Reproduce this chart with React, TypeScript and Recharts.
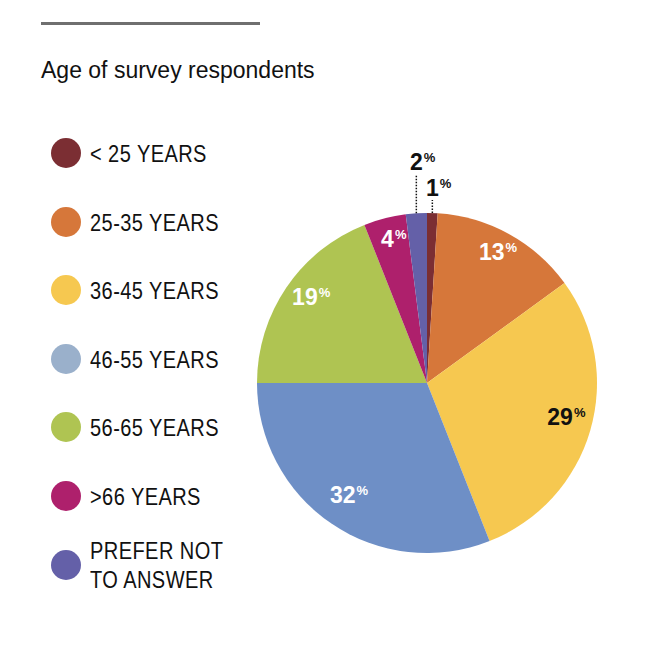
import { PieChart, Pie, Cell } from 'recharts';

// age bands, as listed in the legend
const ageGroups = [
  '< 25 YEARS',
  '25-35 YEARS',
  '36-45 YEARS',
  '46-55 YEARS',
  '56-65 YEARS',
  '>66 YEARS',
  'PREFER NOT TO ANSWER',
];
// share of respondents (%) as drawn by the slices
const shares = [1, 14, 29, 31, 19, 4, 2];
// percentages printed on the slices
const shareLabels = ['1', '13', '29', '32', '19', '4', '2'];

const sliceColors = ['#7B2E33', '#D6773A', '#F6C850', '#6E8FC6', '#AFC452', '#AE206C', '#6460A8'];
const legendColors = ['#7B2E33', '#D6773A', '#F6C850', '#9AB0CB', '#AFC452', '#AE206C', '#6460A8'];
const labelInk = ['#111', '#fff', '#111', '#fff', '#fff', '#fff', '#111'];

const pieData = ageGroups.map((name, i) => ({ name, value: shares[i] }));

const RAD = Math.PI / 180;
const numFont = '"Liberation Sans", Arial, sans-serif';

const renderLabel = (props: any) => {
  const { cx, cy, midAngle, outerRadius, index } = props;
  const cos = Math.cos(-midAngle * RAD);
  const sin = Math.sin(-midAngle * RAD);
  const txt = shareLabels[index];
  const half = (txt.length * 12.8) / 2;

  if (shares[index] < 3) {
    // small slices: label above with a dotted leader
    const ex = cx + outerRadius * cos;
    const ey = cy + outerRadius * sin;
    const lift = index === 0 ? 13 : 39;
    const ty = ey - lift - 4;
    return (
      <g key={`lbl-${index}`}>
        <line x1={ex} y1={ey} x2={ex} y2={ey - lift} stroke="#111" strokeWidth={1.5} strokeDasharray="1.5 1.5" />
        <text x={ex} y={ty} textAnchor="middle" fontFamily={numFont} fontWeight="bold" fontSize={23} fill="#111">
          {txt}
        </text>
        <text x={ex + half + 1} y={ty - 8} fontFamily={numFont} fontWeight="bold" fontSize={13} fill="#111">
          %
        </text>
      </g>
    );
  }

  const r = outerRadius * 0.84;
  const x = cx + r * cos - 4;
  const y = cy + r * sin + 2;
  return (
    <g key={`lbl-${index}`}>
      <text x={x} y={y} textAnchor="middle" fontFamily={numFont} fontWeight="bold" fontSize={23} fill={labelInk[index]}>
        {txt}
      </text>
      <text x={x + half + 1} y={y - 8} fontFamily={numFont} fontWeight="bold" fontSize={13} fill={labelInk[index]}>
        %
      </text>
    </g>
  );
};

const legendText = {
  fontFamily: '"Liberation Sans", Arial, sans-serif',
  fontSize: 23,
  lineHeight: '29px',
  color: '#111',
  whiteSpace: 'nowrap' as const,
  letterSpacing: 0.5,
  transform: 'scaleX(0.87)',
  transformOrigin: 'left center',
};

export default function App() {
  return (
    <div style={{ position: 'absolute', left: 0, top: 0, width: 650, height: 650, background: '#fff' }}>
      <div style={{ position: 'absolute', left: 41, top: 22, width: 219, height: 3, background: '#6f6f6f' }} />
      <div
        style={{
          position: 'absolute',
          left: 41,
          top: 57,
          fontFamily: '"Liberation Sans", Arial, sans-serif',
          fontSize: 23,
          lineHeight: '26px',
          color: '#111',
          whiteSpace: 'nowrap',
        }}
      >
        Age of survey respondents
      </div>

      {ageGroups.map((name, i) => {
        const words = name.split(' ');
        const twoLines = words.length > 3;
        return (
          <div key={name} style={{ position: 'absolute', left: 51, top: 153 + i * 68.6 - 15, height: 30 }}>
            <div
              style={{
                position: 'absolute',
                left: 0,
                top: 0,
                width: 30,
                height: 30,
                borderRadius: '50%',
                background: legendColors[i],
              }}
            />
            <div style={{ position: 'absolute', left: 39, top: twoLines ? -13 : 2, ...legendText }}>
              {twoLines ? (
                <>
                  <div>{words.slice(0, 2).join(' ')}</div>
                  <div>{words.slice(2).join(' ')}</div>
                </>
              ) : (
                name
              )}
            </div>
          </div>
        );
      })}

      <div style={{ position: 'absolute', left: 0, top: 0 }}>
        <PieChart width={650} height={650} margin={{ top: 0, right: 0, bottom: 0, left: 0 }}>
          <Pie
            data={pieData}
            dataKey="value"
            nameKey="name"
            cx={427}
            cy={383}
            outerRadius={170}
            startAngle={90}
            endAngle={-270}
            stroke="none"
            label={renderLabel}
            labelLine={false}
            isAnimationActive={false}
          >
            {pieData.map((d, i) => (
              <Cell key={d.name} fill={sliceColors[i]} />
            ))}
          </Pie>
        </PieChart>
      </div>
    </div>
  );
}
